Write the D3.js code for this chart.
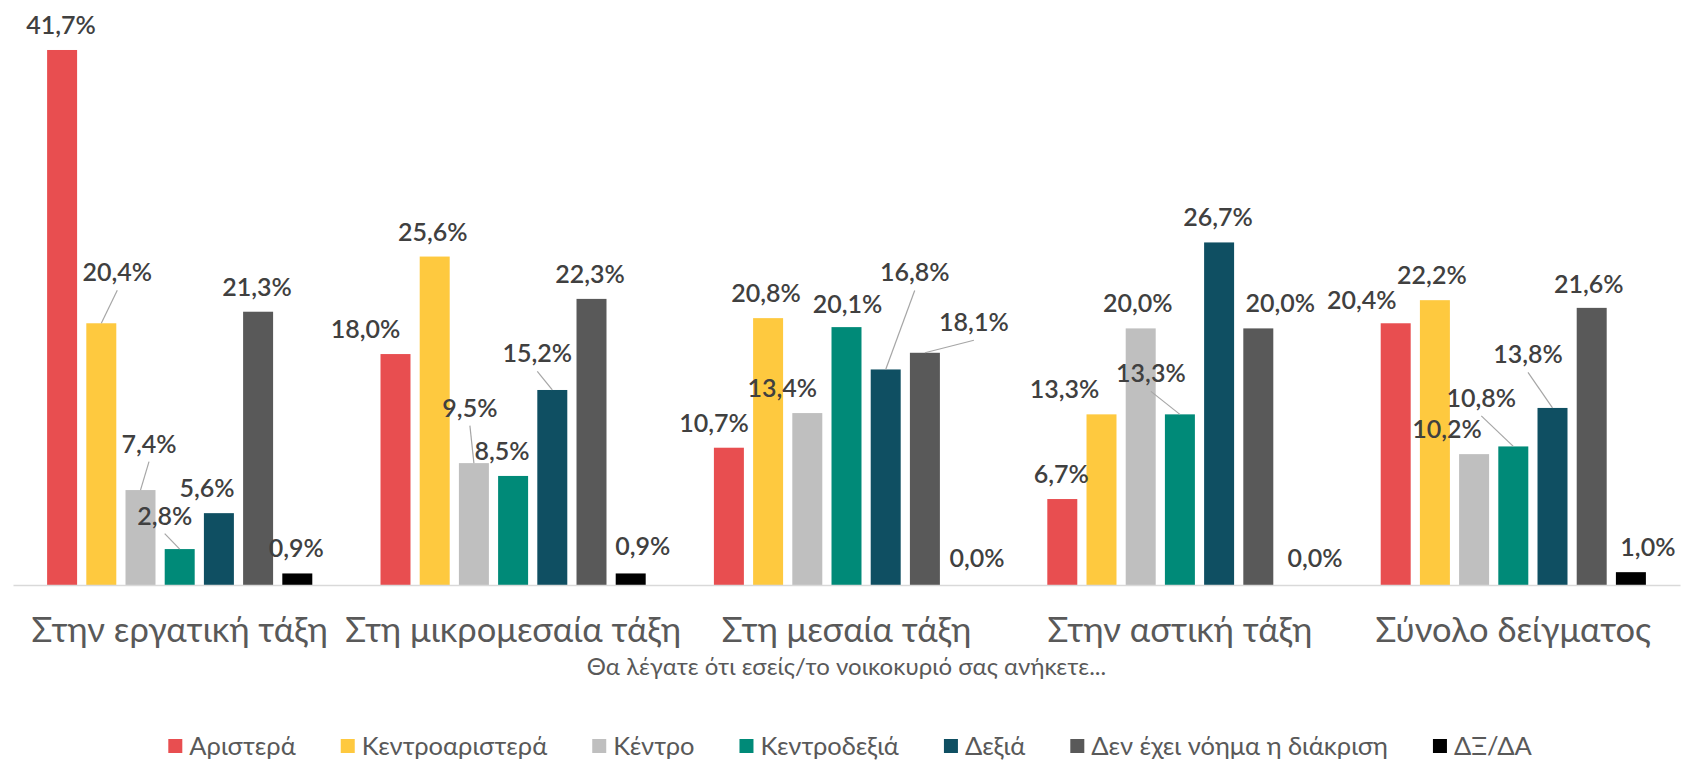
<!DOCTYPE html>
<html>
<head>
<meta charset="utf-8">
<script src="https://cdn.jsdelivr.net/npm/d3@7"></script>
<style>
  html, body { margin: 0; padding: 0; background: #fff; }
  svg { display: block; font-family: Lato, "Noto Sans", sans-serif; }
</style>
</head>
<body>
<svg id="chart" width="1686" height="767"></svg>
<script>
// ---- data ----
const categories = ["Στην εργατική τάξη", "Στη μικρομεσαία τάξη", "Στη μεσαία τάξη", "Στην αστική τάξη", "Σύνολο δείγματος"];
const series = ["Αριστερά", "Κεντροαριστερά", "Κέντρο", "Κεντροδεξιά", "Δεξιά", "Δεν έχει νόημα η διάκριση", "ΔΞ/ΔΑ"];
const aristera        = [41.7, 18.0, 10.7, 6.7, 20.4];
const kentroaristera  = [20.4, 25.6, 20.8, 13.3, 22.2];
const kentro          = [7.4, 9.5, 13.4, 20.0, 10.2];
const kentrodexia     = [2.8, 8.5, 20.1, 13.3, 10.8];
const dexia           = [5.6, 15.2, 16.8, 26.7, 13.8];
const denExeiNoima    = [21.3, 22.3, 18.1, 20.0, 21.6];
const dxda            = [0.9, 0.9, 0.0, 0.0, 1.0];
const seriesValues = [aristera, kentroaristera, kentro, kentrodexia, dexia, denExeiNoima, dxda];
const axisTitle = "Θα λέγατε ότι εσείς/το νοικοκυριό σας ανήκετε...";

// ---- styling / layout ----
const colors = ["#E84E50", "#FEC93F", "#BFBFBF", "#008A78", "#0F4F62", "#595959", "#000000"];
// label nudges [dx, dy, leaderLine] per category, per series (layout only)
const labelNudges = [
  [[-1,0,0],[16,-26,1],[8.5,-21.5,1],[-15,-8.5,1],[-12,0,0],[-1,0,0],[-1,0,0]],
  [[-30,0,0],[-2,0,0],[-4,-30.5,1],[-11,0,0],[-15,-11.5,1],[-1.5,0,0],[12,-2,0]],
  [[-15,0,0],[-2,0,0],[-25,0,0],[1,2,0],[29,-72,1],[49,-5.5,1],[13,-2.5,0]],
  [[-1,0,0],[-37,0,0],[-3,0,0],[-29,-16,1],[-1,0,0],[22,0,0],[17.5,-2.5,0]],
  [[-34,2,0],[-3,0,0],[-27,0,0],[-32,-23.5,1],[-24.5,-28.5,1],[-3,1.5,0],[17,0,0]]
];

const svg = d3.select("#chart");
const baseY = 585;
const x0 = d3.scaleBand().domain(categories).range([13, 1680]).paddingInner(0).paddingOuter(0);
const x1 = d3.scaleBand().domain(series).range([0, x0.bandwidth()]).paddingInner(0.235).paddingOuter(0.87);
const y = d3.scaleLinear().domain([0, 45]).range([baseY, baseY - 45 * 12.83]);
const fmt = v => d3.format(".1f")(v).replace(".", ",") + "%";

// bars
const groups = svg.append("g").selectAll("g").data(categories).join("g")
  .attr("transform", d => `translate(${x0(d)},0)`);

groups.each(function(cat, ci) {
  const g = d3.select(this);
  series.forEach((s, si) => {
    const v = seriesValues[si][ci];
    g.append("rect")
      .attr("x", x1(s))
      .attr("y", y(v))
      .attr("width", x1.bandwidth())
      .attr("height", baseY - y(v))
      .attr("fill", colors[si]);
  });
});

// axis
const axis = svg.append("g")
  .attr("transform", `translate(0,${baseY})`)
  .call(d3.axisBottom(x0).tickSize(0).tickPadding(32.5));
axis.select(".domain").attr("stroke", "#D9D9D9").attr("stroke-width", 1.5);
axis.selectAll("text")
  .attr("font-family", "Lato, 'Noto Sans', sans-serif")
  .attr("font-size", 34.5)
  .attr("fill", "#595959");

// labels + leaders
groups.each(function(cat, ci) {
  const g = d3.select(this);
  series.forEach((s, si) => {
    const v = seriesValues[si][ci];
    const [dx, dy, leader] = labelNudges[ci][si];
    const bx = x1(s) + x1.bandwidth() / 2;
    const top = y(v);
    const lx = bx + dx;
    const baseline = top - 16 + dy;
    if (leader) {
      g.append("line")
        .attr("x1", lx).attr("y1", baseline + 9)
        .attr("x2", bx).attr("y2", top)
        .attr("stroke", "#A6A6A6").attr("stroke-width", 1.2);
    }
    g.append("text")
      .attr("x", lx).attr("y", baseline)
      .attr("text-anchor", "middle")
      .attr("font-size", 25)
      .attr("font-weight", 600)
      .attr("fill", "#404040")
      .text(fmt(v));
  });
});

// axis title
svg.append("text")
  .attr("x", (x0.range()[0] + x0.range()[1]) / 2)
  .attr("y", 675)
  .attr("text-anchor", "middle")
  .attr("font-size", 24)
  .attr("fill", "#595959")
  .text(axisTitle);

// legend
const legend = svg.append("g");
let cx = 0;
const legY = 746;
const legGap = 45;
series.forEach((s, si) => {
  const item = legend.append("g").attr("transform", `translate(${cx},0)`);
  item.append("rect").attr("x", 0).attr("y", legY - 7).attr("width", 14).attr("height", 14).attr("fill", colors[si]);
  const t = item.append("text").attr("x", 21).attr("y", legY + 9)
    .attr("font-size", 25.5).attr("fill", "#595959").text(s);
  const w = t.node().getComputedTextLength();
  cx += 21 + w + legGap;
});
const totalW = cx - legGap;
legend.attr("transform", `translate(${850 - totalW / 2},0)`);
</script>
</body>
</html>
